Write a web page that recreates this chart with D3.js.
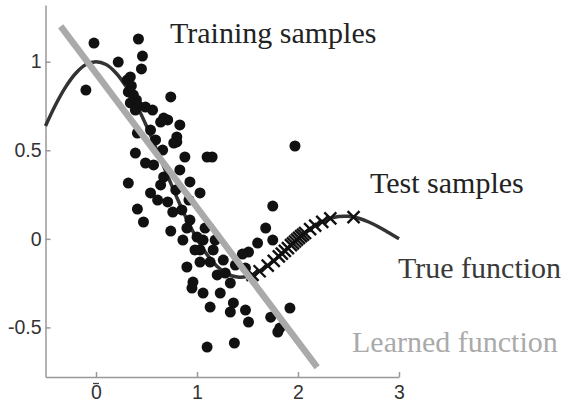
<!doctype html>
<html lang="en">
<head>
  <meta charset="utf-8">
  <title>Covariate shift</title>
  <script src="https://d3js.org/d3.v7.min.js"></script>
  <style>
    body { margin: 0; background: #fff; }
    .axis path, .axis line { stroke: #999; stroke-width: 1.5; }
    .axis text { font-family: "Liberation Sans", Arial, sans-serif; font-size: 19.5px; fill: #333; }
    .label { font-family: "Liberation Serif", "Times New Roman", serif; font-size: 30px; }
  </style>
</head>
<body>
  <div id="chart"></div>
  <script type="text/javascript">

    var width = 562, height = 403;

    // training samples (dots)
    var trainX = [-0.02, -0.10, 0.22, 0.42, 0.46, 0.45, 0.34, 0.31, 0.35, 0.32,
                  0.37, 0.40, 0.34, 0.42, 0.39, 0.49, 0.74, 0.56, 0.64, 0.71,
                  0.83, 0.67, 0.41, 0.54, 0.80, 0.80, 0.39, 0.88, 1.15, 0.49,
                  0.57, 0.67, 0.32, 0.54, 0.93, 1.03, 0.77, 1.10, 0.79, 0.71,
                  0.41, 0.47, 0.76, 0.85, 0.74, 0.90, 0.86, 1.00, 0.93, 1.08,
                  1.97, 1.75, 1.68, 1.75, 1.60, 1.51, 1.45, 0.90, 1.16, 1.26,
                  0.96, 0.95, 1.06, 1.03, 1.13, 1.10, 1.20, 1.28, 1.33, 1.23,
                  1.36, 1.33, 1.48, 1.51, 1.73, 1.92, 1.80, 1.82, 1.37, 0.59,
                  0.66, 1.03, 1.13, 0.98, 1.06, 1.18, 1.38, 1.48, 0.64, 0.83,
                  0.61, 0.92];
    var trainY = [1.105, 0.840, 0.998, 1.128, 1.032, 0.959, 0.914, 0.897, 0.863, 0.829,
                  0.812, 0.784, 0.767, 0.750, 0.727, 0.744, 0.801, 0.727, 0.659, 0.671,
                  0.643, 0.682, 0.597, 0.614, 0.575, 0.547, 0.484, 0.462, 0.462, 0.428,
                  0.417, 0.349, 0.315, 0.259, 0.321, 0.259, 0.541, 0.462, 0.276, 0.208,
                  0.168, 0.095, 0.151, 0.163, 0.044, 0.061, -0.007, 0.010, 0.106, 0.061,
                  0.524, 0.185, 0.061, -0.007, -0.024, -0.075, -0.086, -0.159, -0.063, -0.120,
                  -0.244, -0.278, -0.306, -0.131, -0.385, -0.611, -0.204, -0.193, -0.250, -0.306,
                  -0.362, -0.413, -0.402, -0.470, -0.442, -0.391, -0.526, -0.504, -0.588, 0.558,
                  0.501, -0.063, -0.131, -0.063, -0.007, -0.007, -0.148, -0.165, 0.304, 0.389,
                  0.219, 0.219];

    // test samples (crosses)
    var testX = [1.55, 1.62, 1.70, 1.76, 1.81, 1.84, 1.87, 1.90, 1.93, 1.95, 1.97,
                 1.99, 2.01, 2.03, 2.05, 2.07, 2.12, 2.17, 2.24, 2.32, 2.55];
    var testY = [-0.203, -0.183, -0.151, -0.124, -0.099, -0.083, -0.068, -0.052, -0.036, -0.026, -0.015,
                 -0.005, 0.005, 0.015, 0.024, 0.033, 0.055, 0.075, 0.096, 0.116, 0.123];

    // true function curve
    var trueX = [-0.5, -0.4, -0.3, -0.2, -0.1, 0, 0.1, 0.2, 0.3, 0.4, 0.5, 0.6, 0.7, 0.8, 0.9, 1.0,
                 1.1, 1.2, 1.3, 1.4, 1.5, 1.6, 1.7, 1.8, 1.9, 2.0, 2.1, 2.2, 2.3, 2.4, 2.5,
                 2.6, 2.7, 2.8, 2.9, 3.0];
    var trueY = [0.637, 0.757, 0.858, 0.935, 0.984, 1.0, 0.984, 0.935, 0.858, 0.757, 0.637, 0.505,
                 0.368, 0.234, 0.109, 0, -0.089, -0.156, -0.198, -0.216, -0.212, -0.189, -0.151,
                 -0.104, -0.052, 0, 0.047, 0.085, 0.112, 0.126, 0.127, 0.116, 0.095, 0.067, 0.034, 0];

    // learned function (straight line)
    var learnedX = [-0.35, 2.19];
    var learnedY = [1.20, -0.725];

    var xTicks = [0, 1, 2, 3];
    var yTicks = [-0.5, 0, 0.5, 1];

    var labels = ['Training samples', 'Test samples', 'True function', 'Learned function'];

    var x = d3.scaleLinear().domain([-0.5, 3]).range([45.5, 399]);
    var y = d3.scaleLinear().domain([-0.78, 1.32]).range([377, 5]);

    var svg = d3.select('#chart')
                .append('svg')
                .attr('width', width)
                .attr('height', height);

    svg.append('g')
        .attr('class', 'axis')
        .attr('transform', 'translate(0,377)')
        .call(d3.axisBottom(x).tickValues(xTicks).tickSizeInner(-5).tickSizeOuter(0).tickPadding(8)
              .tickFormat(d3.format('d')));

    svg.append('g')
        .attr('class', 'axis')
        .attr('transform', 'translate(45.5,0)')
        .call(d3.axisLeft(y).tickValues(yTicks).tickSizeInner(-5).tickSizeOuter(0).tickPadding(4)
              .tickFormat(function(d) { return d === 0 ? '0' : String(d); }));

    // the little bar over the 0 label
    svg.append('line')
        .attr('x1', x(0) - 3).attr('x2', x(0) + 3)
        .attr('y1', 383.5).attr('y2', 383.5)
        .attr('stroke', '#444').attr('stroke-width', 1.3);

    var trueLine = d3.line()
                     .x(function(d, i) { return x(trueX[i]); })
                     .y(function(d, i) { return y(trueY[i]); })
                     .curve(d3.curveCatmullRom);

    svg.append('path')
        .attr('d', trueLine(trueX))
        .attr('fill', 'none')
        .attr('stroke', '#333')
        .attr('stroke-width', 3.5);

    svg.selectAll('.train')
        .data(trainX)
        .enter()
        .append('circle')
        .attr('class', 'train')
        .attr('cx', function(d) { return x(d); })
        .attr('cy', function(d, i) { return y(trainY[i]); })
        .attr('r', 5.5)
        .attr('fill', '#111');

    var m = 6;
    svg.selectAll('.test')
        .data(testX)
        .enter()
        .append('path')
        .attr('class', 'test')
        .attr('d', function(d, i) {
          var cx = x(d), cy = y(testY[i]);
          return 'M' + (cx - m) + ',' + (cy - m) + 'L' + (cx + m) + ',' + (cy + m) +
                 'M' + (cx - m) + ',' + (cy + m) + 'L' + (cx + m) + ',' + (cy - m);
        })
        .attr('stroke', '#111')
        .attr('stroke-width', 2.4)
        .attr('fill', 'none');

    svg.append('line')
        .attr('x1', x(learnedX[0])).attr('y1', y(learnedY[0]))
        .attr('x2', x(learnedX[1])).attr('y2', y(learnedY[1]))
        .attr('stroke', '#aaa')
        .attr('stroke-width', 6.5);

    // text labels
    var labelPos = [[170, 43, '#222'], [370, 193, '#222'], [398, 278, '#3a3a3a'], [352, 352, '#aaa']];
    svg.selectAll('.label')
        .data(labels)
        .enter()
        .append('text')
        .attr('class', 'label')
        .attr('x', function(d, i) { return labelPos[i][0]; })
        .attr('y', function(d, i) { return labelPos[i][1]; })
        .attr('fill', function(d, i) { return labelPos[i][2]; })
        .text(function(d) { return d; });

  </script>
</body>
</html>
